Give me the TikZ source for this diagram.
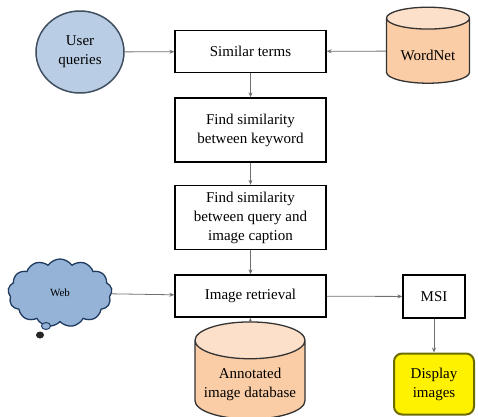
\documentclass[tikz,border=0pt]{standalone}
\usepackage{fontspec}
\newfontfamily\tms{Liberation Serif}
\usetikzlibrary{shapes.geometric,shapes.symbols,arrows.meta}
\definecolor{uqfill}{HTML}{B9CDE5}
\definecolor{uqline}{HTML}{3F4F5F}
\definecolor{peach}{HTML}{FBCDA6}
\definecolor{peachtop}{HTML}{FCE0CA}
\definecolor{cloudfill}{HTML}{95B3D7}
\definecolor{cloudline}{HTML}{1F3A5F}
\definecolor{displine}{HTML}{6B6B00}
\definecolor{conn}{HTML}{707070}
\begin{document}
\begin{tikzpicture}[x=1pt,y=-1pt,
  every node/.style={font=\tms\fontsize{15}{19}\selectfont, align=center, inner sep=0pt},
  procbox/.style={draw=black, line width=1.3pt, minimum width=151pt},
  dbstore/.style={cylinder, shape border rotate=90, aspect=0.4, draw=black!80, line width=1.3pt,
     cylinder uses custom fill, cylinder body fill=peach, cylinder end fill=peachtop},
  link/.style={draw=conn, line width=0.8pt, -{Stealth[length=5pt,width=4pt]}}]
\useasboundingbox (0,0) rectangle (478,416);
\node[ellipse, draw=uqline, fill=uqfill, line width=1.5pt, minimum width=88pt, minimum height=82pt] (uq) at (80,52) {User\\queries};
\node[procbox, minimum height=42pt] (st) at (250.5,51.5) {Similar terms};
\node[dbstore, minimum width=83pt, minimum height=76pt] (wn) at (428,51) {\\WordNet};
\node[procbox, minimum height=64pt] (kw) at (250.5,130) {Find similarity\\between keyword};
\node[procbox, minimum height=64pt] (qc) at (250.5,217.5) {Find similarity\\between query and\\image caption};
\node[procbox, minimum height=42pt] (ir) at (250.5,296) {Image retrieval};
\node[draw=black, line width=1.3pt, minimum width=62pt, minimum height=43pt] (msi) at (434,296.5) {MSI};
\node[cloud, cloud puffs=13, cloud puff arc=110, aspect=1.5, draw=cloudline, fill=cloudfill, line width=1.3pt,
      minimum width=104pt, minimum height=68pt, font=\tms\fontsize{11}{13}\selectfont] (web) at (60,293) {Web};
\node[ellipse, draw=cloudline, fill=cloudfill, line width=1pt, minimum width=9pt, minimum height=7pt] (b1) at (46,326) {};
\node[ellipse, fill=black!85, minimum width=8pt, minimum height=7pt] (b2) at (40,335) {};
\node[dbstore, minimum width=110pt, minimum height=72pt] (db) at (250,380) {\\Annotated\\image database};
\node[rounded corners=8pt, draw=displine, fill=yellow, line width=2pt, minimum width=80pt, minimum height=61pt] (di) at (434,384) {Display\\images};
\draw[link] (uq) -- (st);
\draw[link] (wn) -- (st);
\draw[link] (st) -- (kw);
\draw[link] (kw) -- (qc);
\draw[link] (qc) -- (ir);
\draw[link] (web) -- (ir);
\draw[link] (db) -- (ir);
\draw[link] (ir) -- (msi);
\draw[link] (msi) -- (di);
\end{tikzpicture}
\end{document}
